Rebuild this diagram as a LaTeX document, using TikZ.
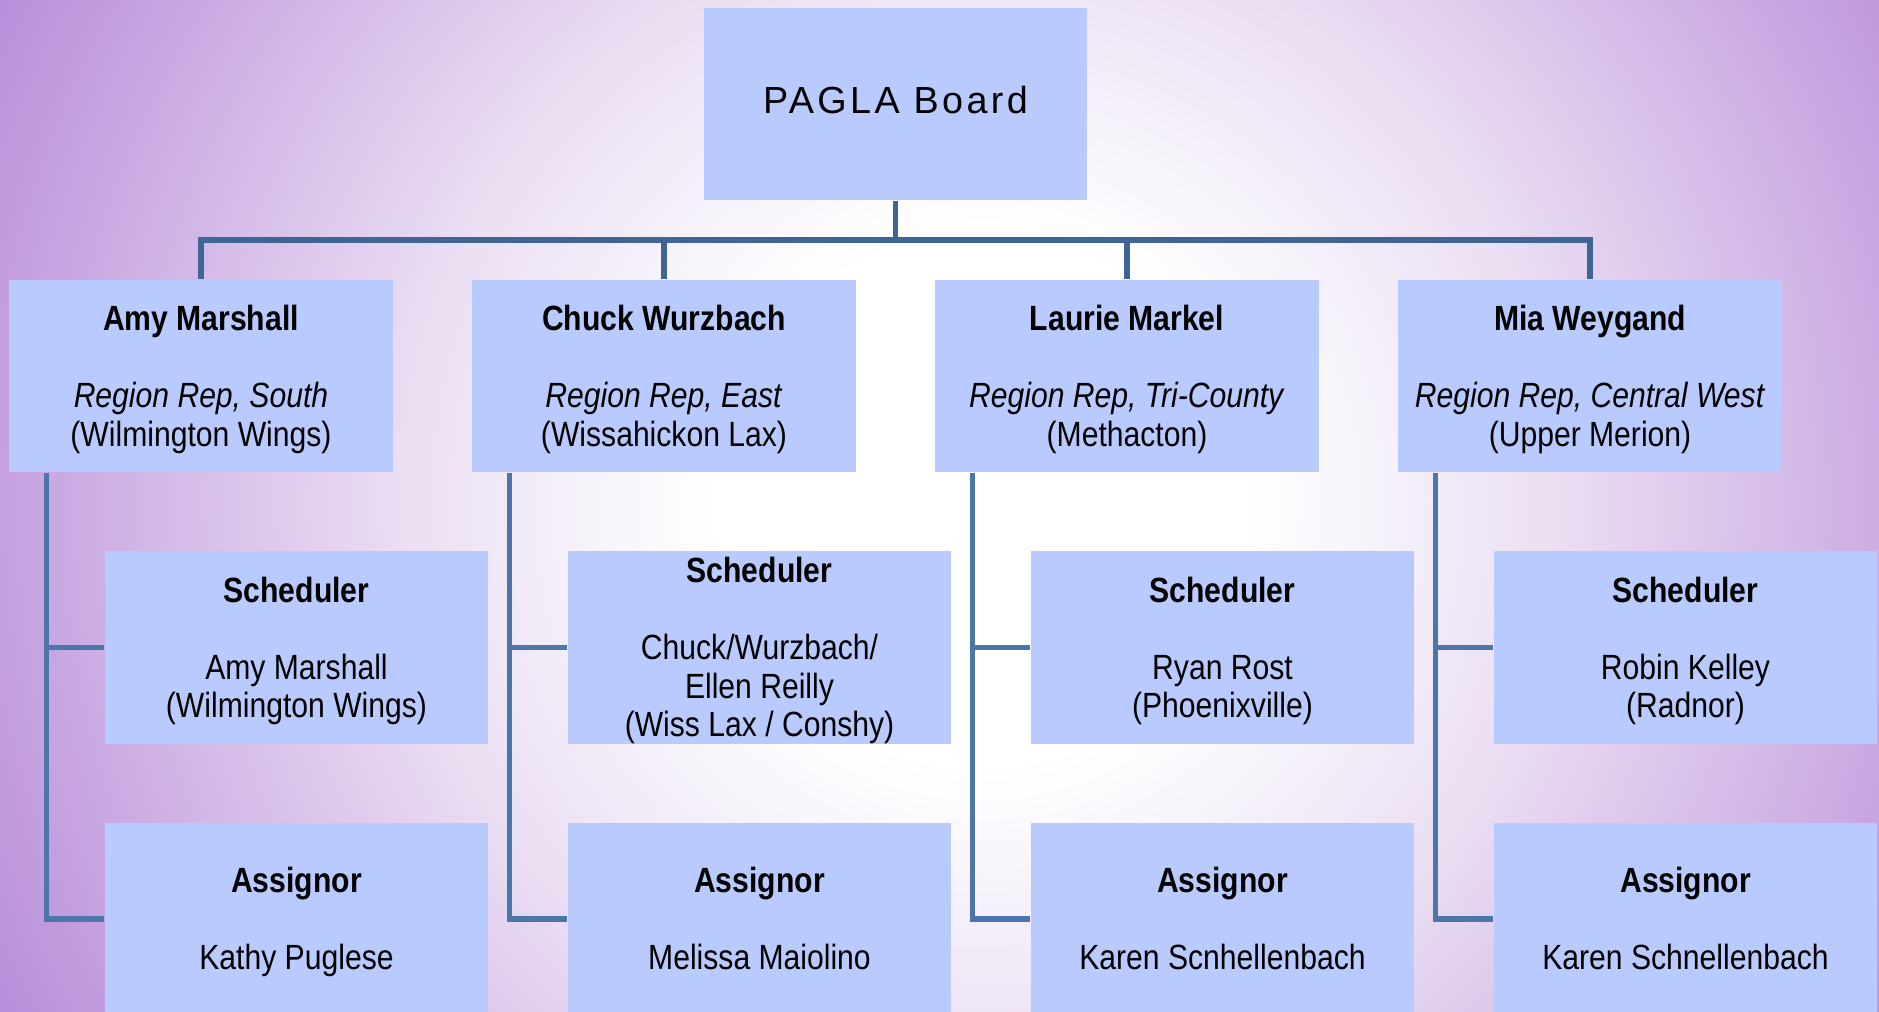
\documentclass[tikz,border=0pt]{standalone}
\usepackage{fontspec}
\setmainfont{Liberation Sans}[FakeStretch=0.86]
\newfontfamily\boardfont{Liberation Sans}[LetterSpace=9]

\definecolor{boxfill}{HTML}{B8CAFE}
\definecolor{linedark}{HTML}{3E6594}
\definecolor{linelight}{HTML}{4A76AA}
\definecolor{bgone}{HTML}{F6F2FA}
\definecolor{bgtwo}{HTML}{EBDFF3}
\definecolor{bgthree}{HTML}{D6BDE9}
\definecolor{bgfour}{HTML}{C29BDE}
\definecolor{bgedge}{HTML}{BA8FDA}
\pgfdeclareradialshading{bgglow}{\pgfpoint{0bp}{0bp}}{color(0bp)=(white); color(5.5bp)=(white); color(8.25bp)=(bgone); color(11.9bp)=(bgtwo); color(16.5bp)=(bgthree); color(21.1bp)=(bgfour); color(22.9bp)=(bgedge); color(50bp)=(bgedge)}

% bold first line of a box, with a little extra room above
\newcommand{\boxhead}[1]{\rule{0pt}{0.32cm}\textbf{#1}}

\begin{document}
\begin{tikzpicture}[x=0.01cm, y=-0.01cm,
    box/.style={fill=boxfill, minimum width=3.83cm, minimum height=1.92cm,
        inner sep=0pt, align=center, font=\fontsize{0.35cm}{0.385cm}\selectfont,
        execute at end node={\vphantom{g}}},
    trunk/.style={draw=linedark, line width=0.055cm},
    branch/.style={draw=linelight, line width=0.055cm}]

    % Background glow
    \useasboundingbox (0,0) rectangle (1879,1011);
    \begin{scope}
        \clip (0,0) rectangle (1879,1011);
        \shade[shading=bgglow] (980,500) circle [radius=12cm];
    \end{scope}

    % Board
    \node[box, font=\boardfont\fontsize{0.377cm}{0.42cm}\selectfont,
        execute at end node={}] (board) at (895.5,104) {PAGLA Board};

    % Region reps
    \node[box] (rep1) at (201,376) {\boxhead{Amy Marshall}\\[0.385cm]\textit{Region Rep, South}\\(Wilmington Wings)};
    \node[box] (rep2) at (664,376) {\boxhead{Chuck Wurzbach}\\[0.385cm]\textit{Region Rep, East}\\(Wissahickon Lax)};
    \node[box] (rep3) at (1127,376) {\boxhead{Laurie Markel}\\[0.385cm]\textit{Region Rep, Tri-County}\\(Methacton)};
    \node[box] (rep4) at (1590,376) {\boxhead{Mia Weygand}\\[0.385cm]\textit{Region Rep, Central West}\\(Upper Merion)};

    % Schedulers
    \node[box] (sched1) at (296.5,647.5) {\boxhead{Scheduler}\\[0.385cm]Amy Marshall\\(Wilmington Wings)};
    \node[box] (sched2) at (759.5,647.5) {\boxhead{Scheduler}\\[0.385cm]Chuck/Wurzbach/\\Ellen Reilly\\(Wiss Lax / Conshy)};
    \node[box] (sched3) at (1222.5,647.5) {\boxhead{Scheduler}\\[0.385cm]Ryan Rost\\(Phoenixville)};
    \node[box] (sched4) at (1685.5,647.5) {\boxhead{Scheduler}\\[0.385cm]Robin Kelley\\(Radnor)};

    % Assignors
    \node[box] (assign1) at (296.5,919) {\boxhead{Assignor}\\[0.385cm]Kathy Puglese};
    \node[box] (assign2) at (759.5,919) {\boxhead{Assignor}\\[0.385cm]Melissa Maiolino};
    \node[box] (assign3) at (1222.5,919) {\boxhead{Assignor}\\[0.385cm]Karen Scnhellenbach};
    \node[box] (assign4) at (1685.5,919) {\boxhead{Assignor}\\[0.385cm]Karen Schnellenbach};

    % Board to region reps
    \coordinate (bar) at (895.5,240);
    \draw[trunk] (board.south) -- (bar);
    \foreach \i in {1,...,4}
        \draw[trunk] (rep\i.north) |- (bar);

    % Region reps to scheduler and assignor
    \foreach \i in {1,...,4} {
        \coordinate (spine\i) at ([xshift=0.38cm]rep\i.south west);
        \draw[branch] (spine\i) |- (sched\i.west);
        \draw[branch] (spine\i) |- (assign\i.west);
    }

\end{tikzpicture}
\end{document}
